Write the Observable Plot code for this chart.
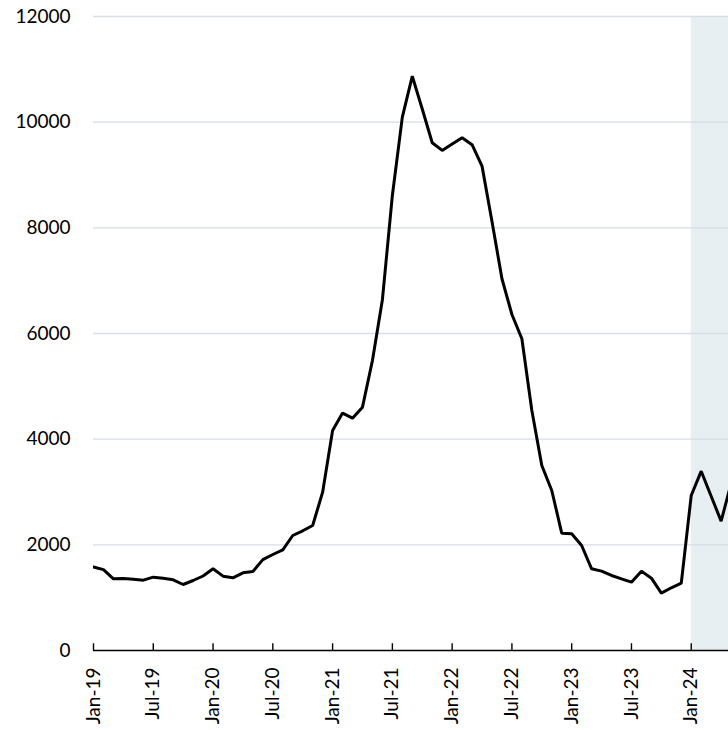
<!DOCTYPE html>
<html>
<head>
<meta charset="utf-8">
<script src="https://cdn.jsdelivr.net/npm/d3@7"></script>
<script src="https://cdn.jsdelivr.net/npm/@observablehq/plot@0.6"></script>
<style>
  html, body { margin: 0; padding: 0; background: #fff; }
  #chart svg { display: block; }
</style>
</head>
<body>
<div id="chart"></div>
<script>
// Monthly values, Jan-19 .. May-24
const months = [
  "Jan-19","Feb-19","Mar-19","Apr-19","May-19","Jun-19","Jul-19","Aug-19","Sep-19","Oct-19","Nov-19","Dec-19",
  "Jan-20","Feb-20","Mar-20","Apr-20","May-20","Jun-20","Jul-20","Aug-20","Sep-20","Oct-20","Nov-20","Dec-20",
  "Jan-21","Feb-21","Mar-21","Apr-21","May-21","Jun-21","Jul-21","Aug-21","Sep-21","Oct-21","Nov-21","Dec-21",
  "Jan-22","Feb-22","Mar-22","Apr-22","May-22","Jun-22","Jul-22","Aug-22","Sep-22","Oct-22","Nov-22","Dec-22",
  "Jan-23","Feb-23","Mar-23","Apr-23","May-23","Jun-23","Jul-23","Aug-23","Sep-23","Oct-23","Nov-23","Dec-23",
  "Jan-24","Feb-24","Mar-24","Apr-24","May-24"
];
const values = [
  1580, 1530, 1357, 1363, 1350, 1331, 1388, 1369, 1338, 1249, 1325, 1410,
  1546, 1407, 1376, 1470, 1495, 1720, 1817, 1906, 2177, 2266, 2366, 2997,
  4165, 4493, 4398, 4606, 5490, 6640, 8613, 10095, 10870, 10250, 9611, 9465,
  9585, 9705, 9573, 9168, 8120, 7036, 6360, 5900, 4543, 3502, 3029, 2221,
  2209, 1988, 1546, 1502, 1420, 1357, 1293, 1502, 1369, 1085, 1187, 1274,
  2934, 3394, 2920, 2448, 3160
];
const tickLabels = ["Jan-19","Jul-19","Jan-20","Jul-20","Jan-21","Jul-21","Jan-22","Jul-22","Jan-23","Jul-23","Jan-24"];
const yTicks = [0, 2000, 4000, 6000, 8000, 10000, 12000];
const shadeStart = "Jan-24";

const data = months.map((m, i) => ({i, month: m, value: values[i]}));
const tickIdx = tickLabels.map(l => months.indexOf(l));
const shadeIdx = months.indexOf(shadeStart);
const xMax = 63.74;

const chart = Plot.plot({
  width: 728,
  height: 730,
  marginLeft: 93,
  marginRight: 0,
  marginTop: 16,
  marginBottom: 80,
  style: {fontFamily: "Lato, 'Open Sans', sans-serif", fontSize: "19px", color: "#000", background: "#fff"},
  x: {type: "linear", domain: [0, xMax]},
  y: {domain: [0, 12000]},
  marks: [
    Plot.rect([{x1: shadeIdx, x2: months.length + 5}], {x1: "x1", x2: "x2", y1: 0, y2: 12000, fill: "#e7eff2", clip: true}),
    Plot.ruleY(yTicks.filter(d => d > 0), {stroke: "#d6dee6", strokeWidth: 1.4}),
    Plot.axisY({ticks: yTicks, tickSize: 0, tickPadding: 23, tickFormat: d => String(d), label: null, fontSize: 19}),
    Plot.axisX({ticks: tickIdx, tickFormat: i => months[i], tickSize: 0, tickPadding: 17, tickRotate: -90, label: null, fontSize: 19}),
    Plot.ruleX(tickIdx, {x: d => d, y1: 0, y2: 128, stroke: "#000", strokeWidth: 1.4}),
    Plot.ruleY([0], {stroke: "#000", strokeWidth: 1.6}),
    Plot.line(data, {x: "i", y: "value", stroke: "#000", strokeWidth: 3, strokeLinejoin: "miter", clip: true})
  ]
});
document.getElementById("chart").append(chart);
</script>
</body>
</html>
